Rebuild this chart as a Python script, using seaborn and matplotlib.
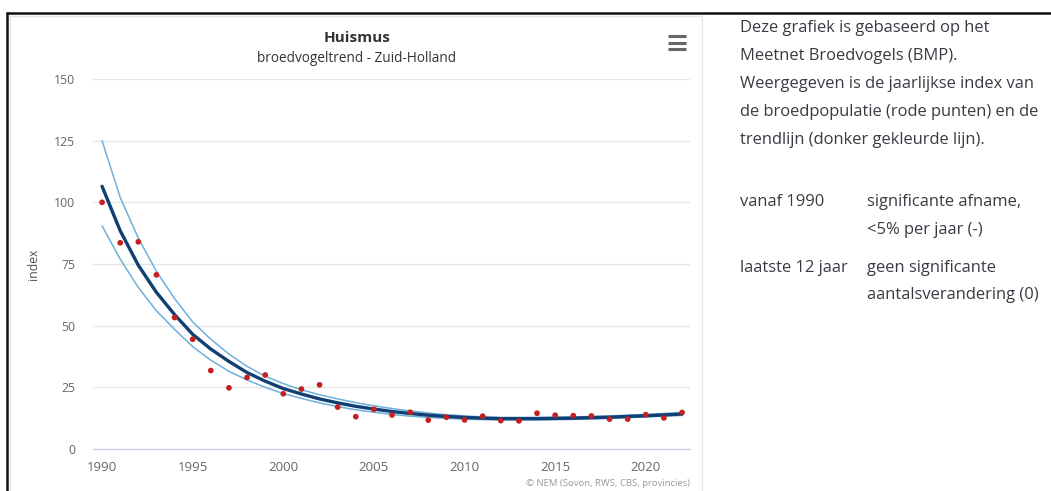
import matplotlib
matplotlib.use("Agg")
import matplotlib.pyplot as plt
from matplotlib.lines import Line2D
from matplotlib.patches import Rectangle
import seaborn as sns
import pandas as pd

# ---- data -------------------------------------------------------------
years = list(range(1990, 2023))

index_points = [100.0, 83.6, 84.0, 70.6, 53.3, 44.5, 31.8, 24.8, 29.0, 30.0,
                22.4, 24.3, 26.0, 17.0, 13.1, 16.1, 13.8, 14.9, 11.7, 12.9,
                11.8, 13.3, 11.5, 11.4, 14.5, 13.7, 13.5, 13.4, 12.1, 12.1,
                13.9, 12.6, 14.8]

trend = [106.5, 88.5, 74.5, 63.5, 54.5, 46.5, 40.5, 35.5, 31.0, 27.5,
         24.5, 22.3, 20.3, 18.7, 17.3, 16.2, 15.2, 14.4, 13.7, 13.2,
         12.8, 12.5, 12.3, 12.3, 12.3, 12.4, 12.5, 12.7, 12.9, 13.2,
         13.5, 13.8, 14.2]

trend_upper = [125.0, 102.0, 85.5, 72.0, 61.0, 51.5, 44.5, 38.5, 33.5, 29.5,
               26.5, 24.0, 22.0, 20.3, 18.8, 17.5, 16.4, 15.4, 14.6, 13.9,
               13.4, 13.0, 12.8, 12.8, 12.8, 12.9, 13.0, 13.2, 13.4, 13.7,
               14.0, 14.4, 14.8]

trend_lower = [90.5, 77.0, 65.5, 56.0, 48.5, 41.5, 36.0, 31.5, 28.0, 25.0,
               22.5, 20.5, 18.7, 17.2, 15.9, 14.9, 14.0, 13.3, 12.8, 12.4,
               12.1, 11.9, 11.8, 11.8, 11.8, 11.9, 12.0, 12.2, 12.4, 12.7,
               13.0, 13.3, 13.6]

y_ticks = [0, 25, 50, 75, 100, 125, 150]
x_ticks = [1990, 1995, 2000, 2005, 2010, 2015, 2020]

title = "Huismus"
subtitle = "broedvogeltrend - Zuid-Holland"
credits = "© NEM (Sovon, RWS, CBS, provincies)"

side_text = ["Deze grafiek is gebaseerd op het",
             "Meetnet Broedvogels (BMP).",
             "Weergegeven is de jaarlijkse index van",
             "de broedpopulatie (rode punten) en de",
             "trendlijn (donker gekleurde lijn)."]
trend_rows = [("vanaf 1990", ["significante afname,", "<5% per jaar (-)"]),
              ("laatste 12 jaar", ["geen significante", "aantalsverandering (0)"])]

df = pd.DataFrame({"jaar": years, "index": index_points, "trend": trend,
                   "boven": trend_upper, "onder": trend_lower})

# ---- figure -----------------------------------------------------------
W, H = 1051, 491
sns.set_theme(style="white")
plt.rcParams["font.family"] = ["Open Sans", "DejaVu Sans"]

fig = plt.figure(figsize=(W / 100, H / 100), dpi=100)
fig.patch.set_facecolor("white")


def fx(px):
    return px / W


def fy(py):
    return 1 - py / H


PT = 0.72  # points per pixel at 100 dpi

# page frame: dark border on top/left, light chart container
fig.add_artist(Line2D([fx(7), fx(1051)], [fy(13), fy(13)], color="#111111", lw=1.8))
fig.add_artist(Line2D([fx(7), fx(7)], [fy(13), fy(491)], color="#111111", lw=1.8))
fig.add_artist(Rectangle((fx(10), fy(495)), fx(702) - fx(10), fy(16) - fy(495),
                         fill=False, edgecolor="#e6e6e6", lw=1.0))

ax_left, ax_right, ax_top, ax_bottom = 93, 690, 79, 449
ax = fig.add_axes([fx(ax_left), fy(ax_bottom), fx(ax_right) - fx(ax_left),
                   fy(ax_top) - fy(ax_bottom)])
ax.set_facecolor("white")

# confidence band lines, trend line and yearly index points
band_color = "#6fb0dc"
sns.lineplot(data=df, x="jaar", y="boven", ax=ax, color=band_color, lw=1.1, zorder=3)
sns.lineplot(data=df, x="jaar", y="onder", ax=ax, color=band_color, lw=1.1, zorder=3)
sns.lineplot(data=df, x="jaar", y="trend", ax=ax, color="#0f3f73", lw=2.4, zorder=4)
sns.scatterplot(data=df, x="jaar", y="index", ax=ax, color="#c4201f", s=17,
                edgecolor="none", zorder=5)

ax.set_xlim(1989.5, 2022.44)
ax.set_ylim(0, 150)
ax.set_yticks(y_ticks)
ax.set_xticks(x_ticks)
ax.set_yticklabels([str(t) for t in y_ticks], fontsize=8.8, color="#666666")
ax.set_xticklabels([str(t) for t in x_ticks], fontsize=9.5, color="#666666")
ax.grid(axis="y", color="#e6e6e6", lw=1)
ax.grid(axis="x", visible=False)
for side in ["top", "right", "left"]:
    ax.spines[side].set_visible(False)
ax.spines["bottom"].set_color("#ccd6eb")
ax.spines["bottom"].set_linewidth(1)
ax.tick_params(axis="y", length=0, pad=18 * PT)
ax.tick_params(axis="x", length=9 * PT, width=1, color="#ccd6eb", pad=3 * PT,
               direction="out")
ax.set_xlabel("")
ax.set_ylabel("index", fontsize=8.8, color="#4d4d5e")
ax.yaxis.set_label_coords(-(ax_left - 40) / (ax_right - ax_left), 0.5)

# titles and credits
fig.text(fx(357), fy(38), title, ha="center", va="center", fontsize=11,
         fontweight="bold", color="#333333")
fig.text(fx(357), fy(59), subtitle, ha="center", va="center", fontsize=9.8,
         color="#333333")
fig.text(fx(690), fy(483), credits, ha="right", va="center", fontsize=6.8,
         color="#999999")

# context menu symbol
for yy in (36, 42.5, 49):
    fig.add_artist(Line2D([fx(668), fx(686)], [fy(yy), fy(yy)], color="#666666",
                          lw=2.2, solid_capstyle="butt"))

# explanatory text on the right
text_color = "#3a3a44"
fs_side = 11.9
for i, line in enumerate(side_text):
    fig.text(fx(740), fy(28.3 + i * 28.0), line, ha="left", va="center",
             fontsize=fs_side, color=text_color)
row_y = [202.5, 267.5]
for (label, lines), y0 in zip(trend_rows, row_y):
    fig.text(fx(740), fy(y0), label, ha="left", va="center", fontsize=fs_side,
             color=text_color)
    for j, line in enumerate(lines):
        fig.text(fx(867), fy(y0 + j * 27.5), line, ha="left", va="center",
                 fontsize=fs_side, color=text_color)

fig.savefig("out.png", dpi=100, facecolor="white")
